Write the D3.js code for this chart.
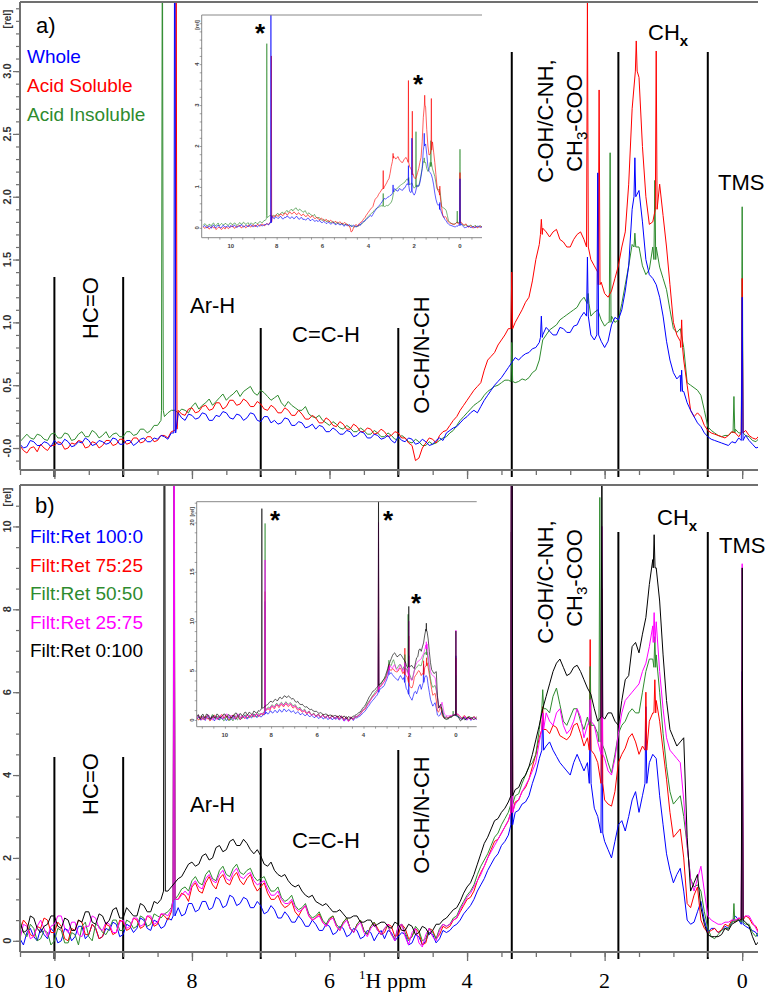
<!DOCTYPE html>
<html><head><meta charset="utf-8">
<script src="https://cdn.jsdelivr.net/npm/d3@7"></script>
<style>body{margin:0;background:#fff}svg{display:block}</style>
</head><body>
<svg id="c" width="769" height="992"></svg>
<script>
// ---------- DATA ----------
const ppm = [11.2,11.15,11.1,11.05,11.0,10.95,10.9,10.85,10.8,10.75,10.7,10.65,10.6,10.55,10.5,10.45,10.4,10.35,10.3,10.25,
10.2,10.15,10.1,10.05,10.0,9.95,9.9,9.85,9.8,9.75,9.7,9.65,9.6,9.55,9.5,9.45,9.4,9.35,9.3,9.25,
9.2,9.15,9.1,9.05,9.0,8.95,8.9,8.85,8.8,8.75,8.7,8.65,8.6,8.55,8.5,8.45,8.4,8.35,8.3,8.25,
8.2,8.15,8.1,8.05,8.0,7.95,7.9,7.85,7.8,7.75,7.7,7.65,7.6,7.55,7.5,7.45,7.4,7.35,7.3,7.25,
7.2,7.15,7.1,7.05,7.0,6.95,6.9,6.85,6.8,6.75,6.7,6.65,6.6,6.55,6.5,6.45,6.4,6.35,6.3,6.25,
6.2,6.15,6.1,6.05,6.0,5.95,5.9,5.85,5.8,5.75,5.7,5.65,5.6,5.55,5.5,5.45,5.4,5.35,5.3,5.25,
5.2,5.15,5.1,5.05,5.0,4.95,4.9,4.85,4.8,4.75,4.7,4.65,4.6,4.55,4.5,4.45,4.4,4.35,4.3,4.25,
4.2,4.15,4.1,4.05,4.0,3.95,3.9,3.85,3.8,3.75,3.7,3.65,3.6,3.55,3.5,3.45,3.4,3.35,3.3,3.25,
3.2,3.15,3.1,3.05,3.0,2.95,2.9,2.85,2.8,2.75,2.7,2.65,2.6,2.55,2.5,2.45,2.4,2.35,2.3,2.25,
2.2,2.15,2.1,2.05,2.0,1.95,1.9,1.85,1.8,1.75,1.7,1.65,1.6,1.55,1.5,1.45,1.4,1.35,1.3,1.25,
1.2,1.15,1.1,1.05,1.0,0.95,0.9,0.85,0.8,0.75,0.7,0.65,0.6,0.55,0.5,0.45,0.4,0.35,0.3,0.25,
0.2,0.15,0.1,0.05,0.0,-0.05,-0.1,-0.15,-0.2,-0.25,-0.3,-0.35,-0.4,-0.45,-0.5,-0.55,-0.6,-0.65,-0.7,-0.75,
-0.8,-0.85,-0.9,-0.95,-1.0];

// Panel a
const wholeA = [0.02,0.06,0.04,0.0,0.01,0.05,0.03,-0.01,0.05,0.07,0.02,0.0,0.04,0.07,0.03,0.0,0.01,0.06,0.05,0.02,
0.02,0.05,0.04,0.01,0.06,0.03,0.03,0.07,0.05,0.01,0.02,0.05,0.04,0.08,0.06,0.02,0.03,0.06,0.05,0.03,
0.04,0.08,0.07,0.03,0.03,0.06,0.06,0.02,0.04,0.07,0.08,0.05,0.05,0.08,0.07,0.1,0.09,0.07,0.12,0.12,
0.28,0.24,0.22,0.27,0.26,0.23,0.24,0.28,0.27,0.22,0.22,0.26,0.25,0.29,0.28,0.24,0.23,0.27,0.26,0.22,
0.24,0.28,0.27,0.22,0.21,0.25,0.25,0.2,0.22,0.19,0.2,0.24,0.23,0.18,0.18,0.21,0.2,0.16,0.17,0.19,
0.15,0.18,0.17,0.13,0.13,0.16,0.14,0.11,0.11,0.14,0.13,0.09,0.1,0.13,0.12,0.08,0.08,0.11,0.1,0.07,
0.08,0.1,0.06,0.04,0.09,0.06,0.05,0.08,0.07,0.03,0.04,0.07,0.05,0.02,0.03,0.06,0.08,0.06,0.12,0.14,
0.16,0.17,0.2,0.23,0.25,0.28,0.3,0.28,0.33,0.38,0.42,0.46,0.5,0.53,0.56,0.6,0.64,0.68,0.72,0.7,
0.73,0.75,0.76,0.79,0.8,0.84,0.9,0.96,0.93,0.9,0.9,0.96,0.95,0.92,0.92,0.97,0.98,1.04,1.08,1.15,
0.9,0.86,0.95,0.85,0.8,0.85,0.98,1.04,1.02,1.1,1.25,1.45,1.9,2.1,2.05,1.8,1.5,1.38,1.35,1.3,
1.2,1.05,0.85,0.7,0.6,0.55,0.58,0.45,0.36,0.3,0.25,0.2,0.17,0.12,0.09,0.07,0.06,0.05,0.04,0.03,
0.02,0.05,0.04,0.08,0.08,0.1,0.06,0.03,0.0,0.01,0.02,0.04,0.04,0.01,0.01,0.03,0.03,0.0,0.02,0.04,
0.04,0.02,0.01,0.03,0.03];
const solubleA = [0.03,-0.01,0.0,0.03,0.02,-0.03,-0.01,0.02,0.03,0.0,0.01,-0.04,-0.02,0.01,0.02,-0.02,-0.04,0.0,0.01,-0.03,
0.03,0.0,-0.02,0.02,0.02,0.05,0.04,-0.01,0.0,0.04,0.03,0.06,0.05,0.0,0.01,0.05,0.04,0.0,0.02,0.06,
0.06,0.02,0.03,0.07,0.07,0.03,0.04,0.08,0.08,0.04,0.05,0.09,0.09,0.05,0.06,0.1,0.1,0.08,0.13,0.14,
0.3,0.27,0.26,0.31,0.32,0.28,0.29,0.33,0.34,0.3,0.31,0.36,0.36,0.31,0.33,0.38,0.38,0.34,0.35,0.39,
0.37,0.33,0.33,0.37,0.35,0.31,0.3,0.34,0.32,0.28,0.28,0.32,0.3,0.26,0.26,0.3,0.27,0.23,0.23,0.26,
0.24,0.2,0.2,0.24,0.22,0.18,0.17,0.21,0.19,0.15,0.15,0.19,0.17,0.13,0.13,0.16,0.15,0.11,0.12,0.15,
0.13,0.09,0.1,0.13,0.12,0.08,0.08,0.04,0.02,-0.1,-0.08,0.0,0.04,0.08,0.07,0.04,0.1,0.13,0.14,0.18,
0.22,0.25,0.3,0.34,0.38,0.42,0.46,0.49,0.52,0.62,0.7,0.73,0.76,0.82,0.86,0.9,0.95,0.97,1.0,1.05,
1.1,1.16,1.2,1.33,1.5,1.62,1.75,1.72,1.68,1.72,1.74,1.66,1.64,1.6,1.6,1.66,1.7,1.72,1.66,1.62,
1.5,1.45,1.4,1.32,1.23,1.2,1.25,1.35,1.45,1.6,1.72,2.1,2.7,2.95,2.95,2.4,2.0,1.78,1.8,1.82,
2.1,1.85,1.6,1.3,1.0,0.9,0.85,0.7,0.5,0.3,0.25,0.28,0.25,0.18,0.14,0.12,0.11,0.1,0.09,0.08,
0.1,0.13,0.12,0.09,0.15,0.14,0.1,0.08,0.07,0.1,0.05,0.02,0.02,0.05,0.04,0.0,0.0,0.03,0.03,0.0,
0.01,0.04,0.04,0.01,0.02];
const insolubleA = [0.06,0.1,0.09,0.05,0.05,0.09,0.08,0.04,0.1,0.12,0.06,0.05,0.09,0.12,0.05,0.08,0.11,0.08,0.07,0.11,
0.1,0.07,0.06,0.11,0.12,0.08,0.08,0.12,0.11,0.06,0.07,0.11,0.13,0.09,0.09,0.14,0.12,0.08,0.1,0.13,
0.08,0.11,0.12,0.09,0.09,0.13,0.13,0.1,0.11,0.15,0.15,0.12,0.14,0.18,0.18,0.22,0.25,0.28,0.3,0.3,
0.28,0.31,0.3,0.28,0.33,0.36,0.31,0.34,0.36,0.39,0.34,0.37,0.4,0.43,0.38,0.41,0.43,0.46,0.41,0.45,
0.47,0.49,0.44,0.42,0.46,0.44,0.41,0.38,0.4,0.42,0.36,0.33,0.37,0.34,0.32,0.3,0.3,0.33,0.27,0.25,
0.24,0.26,0.22,0.2,0.18,0.21,0.19,0.16,0.15,0.18,0.16,0.13,0.13,0.16,0.14,0.11,0.11,0.14,0.12,0.09,
0.09,0.12,0.1,0.07,0.07,0.1,0.08,0.05,0.04,0.07,0.05,0.02,0.02,0.05,0.03,0.04,0.06,0.08,0.09,0.12,
0.14,0.18,0.22,0.25,0.28,0.31,0.34,0.36,0.38,0.42,0.45,0.47,0.49,0.5,0.52,0.54,0.54,0.55,0.52,0.53,
0.55,0.54,0.56,0.6,0.62,0.7,0.86,0.9,0.94,0.96,0.98,1.02,1.04,1.06,1.08,1.1,1.12,1.17,1.2,1.2,
1.05,1.08,1.1,1.02,0.97,1.0,1.05,1.0,1.02,1.15,1.3,1.45,1.62,1.7,1.6,1.45,1.38,1.42,1.6,1.6,
1.44,1.35,1.26,1.1,0.95,0.92,0.95,0.8,0.52,0.5,0.48,0.46,0.42,0.3,0.17,0.14,0.12,0.1,0.09,0.1,
0.1,0.13,0.15,0.12,0.12,0.1,0.09,0.06,0.05,0.08,0.07,0.04,0.04,0.07,0.06,0.03,0.03,0.06,0.05,0.02,
0.02,0.05,0.05,0.02,0.03];
// narrow peaks: [ppm, height, foot]
const peaksWholeA = [[8.25,5.3,0.12],[2.92,1.05,0.88],[2.25,1.52,1.05],[2.1,2.19,0.9],[1.56,2.31,2.0],[0.88,0.62,0.45],[0.0,1.2,0.06]];
const peaksSolubleA = [[8.23,4.2,0.15],[3.35,1.4,0.95],[2.92,1.82,1.7],[2.25,3.6,1.6],[2.08,2.85,1.3],[1.54,3.24,3.0],[1.25,3.16,1.9],[0.88,1.02,0.8],[0.0,1.35,0.12]];
const peaksInsolubleA = [[8.43,4.5,0.3],[3.35,0.84,0.53],[2.24,1.23,1.15],[1.92,2.35,1.0],[1.56,1.71,1.6],[1.27,2.13,1.5],[0.12,0.41,0.12],[0.0,1.92,0.12]];

// Panel b
const filt100 = [0.1,0.3,0.25,0.0,0.05,0.25,0.2,-0.05,0.3,0.35,0.1,0.0,0.25,0.35,0.05,-0.1,0.2,0.3,0.1,0.0,
0.3,0.15,0.05,0.3,0.2,-0.05,0.0,0.3,0.25,0.0,0.1,0.35,0.35,0.05,0.15,0.4,0.3,0.05,0.1,0.3,
0.25,0.45,0.4,0.1,0.15,0.4,0.35,0.2,0.3,0.55,0.5,0.3,0.25,0.5,0.45,0.3,0.35,0.55,0.5,0.55,
0.8,0.6,0.65,0.9,0.9,0.7,0.75,0.95,0.95,0.75,0.8,1.05,1.0,0.8,0.85,1.1,1.05,0.85,0.9,1.05,
1.0,0.8,0.8,0.95,0.85,0.65,0.7,0.85,0.75,0.55,0.55,0.7,0.6,0.45,0.45,0.6,0.5,0.35,0.35,0.5,
0.4,0.25,0.25,0.4,0.35,0.15,0.2,0.35,0.3,0.1,0.15,0.3,0.25,0.05,0.1,0.25,0.2,0.0,0.15,0.25,
0.05,0.25,0.2,0.0,0.1,0.2,0.15,-0.1,-0.05,0.15,0.1,-0.1,0.0,0.2,0.15,-0.05,0.05,0.25,0.2,0.25,
0.35,0.4,0.5,0.65,0.75,0.85,1.0,1.2,1.35,1.5,1.7,1.85,2.0,2.1,2.3,2.4,2.55,2.8,3.1,3.15,
3.3,3.35,3.5,3.8,4.05,4.4,4.9,4.7,4.8,4.6,4.45,4.3,4.2,4.1,4.0,4.3,4.5,4.3,4.1,4.3,
3.5,3.2,3.0,2.7,2.4,2.2,2.0,2.4,2.8,2.9,2.65,3.0,3.4,3.6,3.1,3.5,4.0,4.3,4.5,4.4,
3.5,2.8,2.1,1.7,1.4,1.6,1.75,1.2,0.5,0.4,0.45,0.7,0.95,0.5,0.2,0.3,0.3,0.2,0.25,0.35,
0.3,0.45,0.6,0.5,0.4,0.35,0.3,0.25,0.2,0.05,0.1,0.3,0.25,0.0,0.05,0.25,0.2,-0.05,0.1,0.25,
0.25,0.1,0.05,0.2,0.15];
const filt75 = [0.2,0.0,0.05,0.35,0.3,0.05,0.1,0.4,0.35,0.1,0.15,-0.1,0.0,0.3,0.25,0.5,0.4,0.15,0.1,0.35,
0.3,0.55,0.5,0.2,0.2,0.45,0.35,0.05,0.0,0.3,0.25,0.5,0.45,0.15,0.15,0.4,0.3,0.05,0.1,0.4,
0.35,0.15,0.2,0.5,0.45,0.25,0.3,0.55,0.5,0.3,0.35,0.6,0.55,0.35,0.4,0.65,0.6,0.5,0.7,0.8,
1.0,1.15,1.1,0.95,1.3,1.4,1.2,1.15,1.4,1.55,1.35,1.25,1.5,1.6,1.4,1.35,1.55,1.65,1.45,1.35,
1.5,1.6,1.35,1.2,1.3,1.4,1.15,1.0,1.0,1.1,0.9,0.8,0.85,0.95,0.7,0.6,0.75,0.85,0.6,0.5,
0.55,0.65,0.45,0.35,0.5,0.6,0.35,0.25,0.45,0.55,0.3,0.2,0.4,0.5,0.25,0.15,0.35,0.45,0.3,0.15,
0.2,0.4,0.35,0.1,0.15,0.4,0.3,0.05,0.1,0.3,0.2,-0.1,-0.05,0.3,0.25,0.05,0.15,0.35,0.3,0.35,
0.5,0.55,0.7,0.85,1.0,1.05,1.2,1.45,1.65,1.8,2.0,2.2,2.4,2.45,2.6,2.75,2.9,3.1,3.35,3.4,
3.6,3.7,3.9,4.2,4.5,4.9,5.3,5.1,5.0,5.2,5.15,4.95,4.9,4.85,4.95,5.2,5.25,5.0,4.7,4.9,
4.8,4.5,4.3,3.8,3.4,3.3,3.25,3.6,4.3,4.5,4.65,4.9,5.0,4.8,4.5,4.7,5.0,5.3,5.5,5.8,
5.3,4.6,3.9,3.1,2.5,2.6,2.7,2.0,0.9,0.8,1.1,1.3,0.5,0.3,0.2,0.25,0.3,0.2,0.27,0.4,
0.35,0.5,0.45,0.55,0.5,0.6,0.55,0.4,0.35,0.15,0.2,0.45,0.4,0.2,0.15,0.35,0.3,0.05,0.1,0.3,
0.35,0.15,0.2,0.3,0.1];
const filt50 = [0.3,0.45,0.1,0.0,0.4,0.35,0.05,0.1,0.25,0.5,0.45,0.15,0.2,0.55,0.5,0.2,0.1,0.4,0.3,0.0,
0.05,0.25,0.2,-0.1,0.0,0.3,0.25,-0.05,-0.05,0.2,0.15,-0.1,0.35,0.45,0.1,0.0,0.4,0.35,0.2,0.15,
0.3,0.5,0.5,0.25,0.25,0.5,0.45,0.3,0.35,0.6,0.55,0.35,0.4,0.65,0.6,0.55,0.65,0.7,0.8,0.9,
1.1,1.25,1.3,1.2,1.45,1.55,1.4,1.35,1.6,1.7,1.5,1.45,1.7,1.8,1.6,1.55,1.75,1.85,1.65,1.6,
1.7,1.75,1.55,1.45,1.5,1.55,1.35,1.2,1.2,1.3,1.05,0.95,1.0,1.1,0.85,0.75,0.8,0.9,0.65,0.55,
0.6,0.7,0.5,0.4,0.55,0.6,0.4,0.3,0.45,0.55,0.3,0.2,0.4,0.5,0.25,0.15,0.35,0.45,0.25,0.15,
0.3,0.35,0.15,0.05,0.35,0.4,0.2,0.0,0.1,0.35,0.25,0.0,0.05,0.3,0.2,0.05,0.3,0.4,0.35,0.4,
0.55,0.6,0.8,0.95,1.1,1.2,1.35,1.6,1.8,1.95,2.1,2.3,2.5,2.6,2.8,2.95,3.1,3.3,3.5,3.55,
3.8,4.0,4.2,4.3,4.5,5.1,5.8,5.6,5.5,5.9,6.1,5.7,5.3,5.2,5.4,5.6,5.6,5.3,5.1,5.4,
5.3,5.2,5.0,4.8,4.6,4.3,4.05,4.5,5.0,5.2,5.3,5.5,5.6,5.5,5.5,6.0,6.5,6.8,6.8,6.9,
6.0,5.0,4.2,3.6,3.3,3.4,3.5,3.0,2.3,1.5,1.3,1.35,1.2,0.7,0.3,0.1,0.05,0.15,0.25,0.3,
0.3,0.45,0.5,0.5,0.45,0.4,0.4,0.2,0.1,0.25,0.3,0.05,0.0,0.15,0.2,0.35,0.35,0.2,0.15,0.3,
0.3,0.15,0.1,0.25,0.2];
const filt25 = [0.15,0.45,0.4,0.05,0.0,0.35,0.3,0.0,0.1,0.5,0.5,0.25,0.2,0.0,0.05,0.4,0.35,0.05,0.1,0.35,
0.5,0.3,0.1,0.35,0.4,0.6,0.6,0.3,0.2,0.45,0.45,0.15,0.1,0.35,0.35,0.6,0.55,0.3,0.25,0.45,
0.4,0.2,0.2,0.45,0.5,0.3,0.35,0.55,0.55,0.35,0.4,0.6,0.6,0.4,0.45,0.65,0.65,0.6,0.75,0.85,
1.0,1.1,1.2,1.1,1.35,1.45,1.3,1.25,1.5,1.6,1.45,1.4,1.6,1.7,1.5,1.45,1.65,1.75,1.55,1.5,
1.6,1.65,1.45,1.35,1.4,1.45,1.25,1.1,1.1,1.2,1.0,0.9,0.9,1.0,0.8,0.7,0.75,0.85,0.6,0.5,
0.55,0.6,0.45,0.35,0.5,0.55,0.35,0.25,0.4,0.5,0.3,0.2,0.35,0.45,0.2,0.1,0.3,0.4,0.25,0.15,
0.3,0.4,0.15,0.0,0.35,0.4,0.1,-0.1,0.2,0.3,-0.05,-0.15,0.15,0.3,0.1,0.0,0.25,0.4,0.35,0.4,
0.5,0.55,0.75,0.9,1.05,1.15,1.3,1.45,1.6,1.8,2.0,2.15,2.3,2.45,2.6,2.75,2.9,3.1,3.3,3.4,
3.6,3.75,3.9,4.1,4.3,4.8,5.4,5.5,5.3,5.2,5.5,5.6,5.2,5.0,5.1,5.3,5.6,5.4,4.9,5.2,
5.6,5.2,4.8,4.6,4.4,4.1,4.0,4.4,5.0,5.5,5.8,5.9,6.0,6.1,6.2,6.5,6.7,7.1,7.6,7.7,
6.5,5.6,4.9,4.6,4.5,4.4,4.3,3.4,2.3,1.5,1.2,1.5,1.8,1.2,0.6,0.5,0.45,0.4,0.4,0.45,
0.45,0.5,0.5,0.55,0.55,0.6,0.6,0.45,0.3,0.15,0.1,0.3,0.35,0.1,0.0,0.2,0.25,0.05,0.1,0.25,
0.3,0.1,0.05,0.2,0.2];
const filt0 = [0.4,0.55,0.2,0.1,0.5,0.6,0.3,0.2,0.6,0.55,0.35,0.1,0.1,0.4,0.45,0.2,0.25,0.6,0.55,0.3,
0.2,0.35,0.4,0.6,0.6,0.35,0.3,0.55,0.5,0.25,0.25,0.5,0.45,0.7,0.7,0.45,0.4,0.65,0.6,0.4,
0.5,0.75,0.8,0.55,0.55,0.8,0.7,0.6,0.6,0.9,0.85,0.7,0.7,0.95,0.9,1.0,1.1,1.2,1.3,1.4,
1.5,1.55,1.7,1.85,1.9,1.8,1.85,2.05,2.1,1.95,2.0,2.25,2.3,2.15,2.2,2.4,2.45,2.3,2.3,2.45,
2.35,2.2,2.1,2.2,2.05,1.85,1.8,1.9,1.7,1.6,1.55,1.6,1.45,1.35,1.3,1.35,1.2,1.1,1.05,1.1,
0.95,0.9,0.85,0.9,0.8,0.7,0.7,0.75,0.65,0.55,0.55,0.6,0.6,0.45,0.45,0.5,0.5,0.35,0.4,0.45,
0.45,0.35,0.3,0.45,0.4,0.25,0.25,0.4,0.35,0.15,0.2,0.35,0.3,0.15,0.25,0.4,0.4,0.5,0.55,0.65,
0.75,0.8,0.95,1.15,1.3,1.4,1.6,1.85,2.1,2.35,2.5,2.7,2.9,2.95,3.1,3.2,3.35,3.5,3.65,3.7,
3.9,4.0,4.2,4.5,4.85,5.2,5.6,5.9,6.2,6.5,6.7,6.8,6.6,6.4,6.45,6.6,6.65,6.5,6.3,6.1,
5.95,5.6,5.3,5.4,5.35,5.5,5.5,5.3,5.2,5.8,6.3,6.4,7.1,7.2,6.95,7.4,7.8,8.6,9.2,9.0,
8.2,6.9,5.8,5.1,4.9,4.7,4.8,4.9,2.5,1.2,1.4,1.6,0.8,0.4,0.15,0.1,0.1,0.1,0.15,0.3,
0.25,0.4,0.45,0.5,0.5,0.45,0.35,0.1,-0.1,0.0,0.2,0.25,0.05,0.1,0.3,0.25,0.1,0.2,0.25,0.05,
0.05,0.2,0.3,0.25,0.15];
const peaks100 = [[8.26,12,0.6],[3.35,9,2.8],[2.9,5.5,4.6],[2.21,5.65,3.8],[2.04,6.5,2.6],[1.4,5.65,3.8],[0.0,6.5,0.4]];
const peaks75 = [[8.26,13,1.0],[3.35,15,3.1],[2.9,5.65,5.1],[2.21,7.27,4.6],[2.04,8.5,3.8],[1.4,6.0,4.6],[1.27,6.3,5.5],[0.0,6.3,0.5]];
const peaks50 = [[8.26,19.9,1.0],[3.35,18,3.3],[2.9,6.06,5.6],[2.21,6.62,5.2],[2.07,10.7,4.8],[1.27,7.34,6.6],[0.12,0.9,0.45],[0.0,4.5,0.45]];
const peaks25 = [[8.26,16.2,1.0],[3.35,20,3.1],[2.9,5.5,5.1],[2.21,5.82,5.3],[2.04,10,4.5],[1.28,7.92,7.2],[0.0,9.1,0.55]];
const peaks0 = [[8.40,21.4,1.2],[3.35,24,3.5],[2.04,11.5,5.4],[1.28,9.8,9.0],[0.0,9.0,0.5]];

const legendA = ["Whole","Acid Soluble","Acid Insoluble"];
const legendB = ["Filt:Ret 100:0","Filt:Ret 75:25","Filt:Ret 50:50","Filt:Ret 25:75","Filt:Ret 0:100"];
const regionPpm = [10, 9, 7, 5, 3.35, 1.8, 0.5];
const xTickLabels = [10, 8, 6, 4, 2, 0];
const yTicksA = [0, 0.5, 1.0, 1.5, 2.0, 2.5, 3.0];
const yTickLabelsA = ["-0.0","0.5","1.0","1.5","2.0","2.5","3.0"];
const yTicksB = [0, 2, 4, 6, 8, 10];
const insetYTicksA = [0,1,2,3,4];
const insetYTicksB = [0,5,10,15,20];

// ---------- DRAW ----------
const svg = d3.select("#c");
const defs = svg.append("defs");
const FONT = "'Liberation Sans', Arial, sans-serif";
const SERIF = "'Liberation Serif', 'Times New Roman', serif";
const GREEN = "#2e8b2e";
const AXIS = "#707070";

function clip(id, x0, y0, x1, y1) {
  defs.append("clipPath").attr("id", id).append("rect")
    .attr("x", x0).attr("y", y0).attr("width", x1 - x0).attr("height", y1 - y0);
}
function series(vals, peaks) {
  const pts = [];
  ppm.forEach((p, i) => { if (!peaks.some(k => Math.abs(k[0] - p) < 0.016)) pts.push([p, vals[i]]); });
  peaks.forEach(k => { pts.push([k[0] + 0.013, k[2]], [k[0], k[1]], [k[0] - 0.013, k[2]]); });
  pts.sort((a, b) => b[0] - a[0]);
  return pts;
}
function drawLines(g, x, y, list, clipId, sw, op) {
  const line = d3.line().x(d => x(d[0])).y(d => y(d[1]));
  const gg = g.append("g").attr("clip-path", `url(#${clipId})`);
  list.forEach(s => {
    gg.append("path").attr("d", line(s.data)).attr("fill", "none")
      .attr("stroke", s.color).attr("stroke-width", sw).attr("stroke-opacity", op)
      .attr("stroke-linejoin", "round");
  });
}

const setA = [
  {data: series(insolubleA, peaksInsolubleA), color: GREEN},
  {data: series(solubleA, peaksSolubleA), color: "#ff0000"},
  {data: series(wholeA, peaksWholeA), color: "#0000ff"}
];
const setB = [
  {data: series(filt100, peaks100), color: "#0000ff"},
  {data: series(filt75, peaks75), color: "#ff0000"},
  {data: series(filt50, peaks50), color: GREEN},
  {data: series(filt25, peaks25), color: "#ff00ff"},
  {data: series(filt0, peaks0), color: "#000000"}
];

const xM = d3.scaleLinear().domain([10.5, -0.23]).range([20, 758]);
const yA = d3.scaleLinear().domain([-0.175, 3.55]).range([470, 2]);
const yB = d3.scaleLinear().domain([-0.27, 11.0]).range([952, 485]);

clip("cA", 20, 2, 758, 470);
clip("cB", 20, 485, 758, 952);

function mainPanel(y, set, clipId, top, bottom, yTicks, yLabels, minorStep, yMin, yMax, relY, regionTops) {
  const g = svg.append("g");
  regionPpm.forEach((p, i) => {
    g.append("line").attr("x1", xM(p)).attr("x2", xM(p)).attr("y1", regionTops[i]).attr("y2", bottom + 7)
      .attr("stroke", "#000").attr("stroke-width", 2);
  });
  drawLines(g, xM, y, set, clipId, 1, 1);
  g.append("line").attr("x1", 20).attr("x2", 758).attr("y1", top).attr("y2", top).attr("stroke", AXIS).attr("stroke-width", 2);
  g.append("line").attr("x1", 20).attr("x2", 758).attr("y1", bottom).attr("y2", bottom).attr("stroke", AXIS).attr("stroke-width", 2);
  g.append("line").attr("x1", 20).attr("x2", 20).attr("y1", top).attr("y2", bottom).attr("stroke", AXIS).attr("stroke-width", 2);
  const minorX = d3.range(10.5, -0.01, -0.5);
  const ax = g.append("g").attr("transform", `translate(0,${bottom})`)
    .call(d3.axisBottom(xM).tickValues(minorX).tickSize(5).tickFormat(""));
  ax.select(".domain").remove();
  ax.selectAll("line").attr("stroke", AXIS).attr("stroke-width", 1.3);
  const axM = g.append("g").attr("transform", `translate(0,${bottom})`)
    .call(d3.axisBottom(xM).tickValues(xTickLabels).tickSize(9).tickFormat(""));
  axM.select(".domain").remove();
  axM.selectAll("line").attr("stroke", AXIS).attr("stroke-width", 1.3);
  const minorY = d3.range(yMin, yMax + 1e-6, minorStep);
  const ay = g.append("g").attr("transform", "translate(20,0)")
    .call(d3.axisLeft(y).tickValues(minorY).tickSize(4).tickFormat(""));
  ay.select(".domain").remove();
  ay.selectAll("line").attr("stroke", AXIS).attr("stroke-width", 1.2);
  const ayM = g.append("g").attr("transform", "translate(20,0)")
    .call(d3.axisLeft(y).tickValues(yTicks).tickSize(7).tickFormat(""));
  ayM.select(".domain").remove();
  ayM.selectAll("line").attr("stroke", AXIS).attr("stroke-width", 1.2);
  yTicks.forEach((v, i) => {
    g.append("text").attr("transform", `translate(11,${y(v)}) rotate(-90)`).attr("text-anchor", "middle")
      .attr("font-family", FONT).attr("font-weight", "bold").attr("font-size", 11).attr("fill", "#333").text(yLabels[i]);
  });
  g.append("text").attr("transform", `translate(11,${relY}) rotate(-90)`).attr("text-anchor", "middle")
    .attr("font-family", FONT).attr("font-weight", "bold").attr("font-size", 10).attr("fill", "#333").text("[rel]");
  return g;
}

mainPanel(yA, setA, "cA", 2, 470, yTicksA, yTickLabelsA, 0.1, -0.1, 3.5, 19, [277, 277, 328, 328, 52, 52, 52]);
mainPanel(yB, setB, "cB", 485, 952, yTicksB, yTicksB.map(String), 0.5, 0, 10.5, 497, [757, 757, 748, 750, 532, 532, 532]);

xTickLabels.forEach(v => {
  svg.append("text").attr("x", xM(v)).attr("y", 988).attr("text-anchor", "middle")
    .attr("font-family", SERIF).attr("font-size", 22).text(v);
});
const xl = svg.append("text").attr("x", 359).attr("y", 988).attr("font-family", SERIF).attr("font-size", 22);
xl.append("tspan").attr("font-size", 13).attr("dy", -9).text("1");
xl.append("tspan").attr("dy", 9).text("H ppm");

const colA = ["#0000ff", "#ff0000", GREEN];
legendA.forEach((t, i) => svg.append("text").attr("x", 27).attr("y", 63 + i * 29)
  .attr("font-family", FONT).attr("font-size", 19).attr("fill", colA[i]).text(t));
const colB = ["#0000ff", "#ff0000", GREEN, "#ff00ff", "#000"];
legendB.forEach((t, i) => svg.append("text").attr("x", 30).attr("y", 543 + i * 28.5)
  .attr("font-family", FONT).attr("font-size", 19).attr("fill", colB[i]).text(t));

svg.append("text").attr("x", 36).attr("y", 33).attr("font-family", FONT).attr("font-size", 22).text("a)");
svg.append("text").attr("x", 35).attr("y", 513).attr("font-family", FONT).attr("font-size", 22).text("b)");

function rot(x, y, txt) {
  return svg.append("text").attr("transform", `translate(${x},${y}) rotate(-90)`).attr("text-anchor", "middle")
    .attr("font-family", FONT).attr("font-size", 22).text(txt);
}
function horiz(x, y, txt) {
  return svg.append("text").attr("x", x).attr("y", y).attr("font-family", FONT).attr("font-size", 22).text(txt);
}
function chx(x, y) {
  const t = svg.append("text").attr("x", x).attr("y", y).attr("font-family", FONT).attr("font-size", 22);
  t.append("tspan").text("CH");
  t.append("tspan").attr("font-size", 15).attr("font-weight", "bold").attr("dy", 6).text("x");
}
function ch3(x, y) {
  const t = svg.append("text").attr("transform", `translate(${x},${y}) rotate(-90)`).attr("text-anchor", "middle")
    .attr("font-family", FONT).attr("font-size", 22);
  t.append("tspan").text("CH");
  t.append("tspan").attr("font-size", 15).attr("dy", 5).text("3");
  t.append("tspan").attr("dy", -5).text("-COO");
}
rot(98, 308, "HC=O");
horiz(190, 313, "Ar-H");
horiz(292, 342, "C=C-H");
rot(429, 355, "O-CH/N-CH");
rot(553, 121, "C-OH/C-NH,");
ch3(582, 123);
chx(648, 40);
horiz(718, 190, "TMS");
rot(98, 784, "HC=O");
horiz(190, 812, "Ar-H");
horiz(292, 848, "C=C-H");
rot(429, 815, "O-CH/N-CH");
rot(553, 582, "C-OH/C-NH,");
ch3(582, 578);
chx(657, 525);
horiz(719, 553, "TMS");

// ---------- INSETS ----------
function inset(set, x, y, id, x0, y0, x1, y1, yTicks, yMinorStep, yMax, stars) {
  clip(id, x0, y0, x1, y1);
  const g = svg.append("g");
  g.append("rect").attr("x", x0).attr("y", y0).attr("width", x1 - x0).attr("height", y1 - y0).attr("fill", "#fff");
  drawLines(g, x, y, set, id, 0.8, 0.8);
  g.append("path").attr("d", `M${x1},${y0}H${x0}V${y1}H${x1}`).attr("fill", "none").attr("stroke", "#888").attr("stroke-width", 1);
  const ax = g.append("g").attr("transform", `translate(0,${y1})`)
    .call(d3.axisBottom(x).tickValues(d3.range(11, -1, -0.5)).tickSize(2).tickFormat(""));
  ax.select(".domain").remove();
  ax.selectAll("line").attr("stroke", "#666").attr("stroke-width", 0.6);
  const ay = g.append("g").attr("transform", `translate(${x0},0)`)
    .call(d3.axisLeft(y).tickValues(d3.range(0, yMax + 1e-6, yMinorStep)).tickSize(2).tickFormat(""));
  ay.select(".domain").remove();
  ay.selectAll("line").attr("stroke", "#666").attr("stroke-width", 0.6);
  xTickLabels.forEach(v => g.append("text").attr("x", x(v)).attr("y", y1 + 10).attr("text-anchor", "middle")
    .attr("font-family", FONT).attr("font-weight", "bold").attr("font-size", 6).attr("fill", "#444").text(v));
  yTicks.forEach(v => g.append("text").attr("transform", `translate(${x0 - 3},${y(v)}) rotate(-90)`).attr("text-anchor", "middle")
    .attr("font-family", FONT).attr("font-weight", "bold").attr("font-size", 6).attr("fill", "#444").text(v));
  g.append("text").attr("transform", `translate(${x0 - 3},${y0 + 10}) rotate(-90)`).attr("text-anchor", "middle")
    .attr("font-family", FONT).attr("font-weight", "bold").attr("font-size", 5).attr("fill", "#444").text("[rel]");
  stars.forEach(s => g.append("text").attr("x", s[0]).attr("y", s[1] + 14).attr("text-anchor", "middle")
    .attr("font-family", FONT).attr("font-weight", "bold").attr("font-size", 26).text("*"));
}
const xIA = d3.scaleLinear().domain([11.27, -0.96]).range([201.7, 482]);
const yIA = d3.scaleLinear().domain([-0.24, 5.2]).range([237.7, 15]);
inset(setA, xIA, yIA, "cIA", 201.7, 15, 482, 237.7, insetYTicksA, 0.2, 5, [[260, 28], [418, 79]]);
const xIB = d3.scaleLinear().domain([11.22, -0.9]).range([196.7, 476.7]);
const yIB = d3.scaleLinear().domain([-0.68, 22.1]).range([726.7, 501.7]);
inset(setB, xIB, yIB, "cIB", 196.7, 501.7, 476.7, 726.7, insetYTicksB, 1, 22, [[275, 515], [388, 515], [416, 598]]);
</script>
</body></html>
